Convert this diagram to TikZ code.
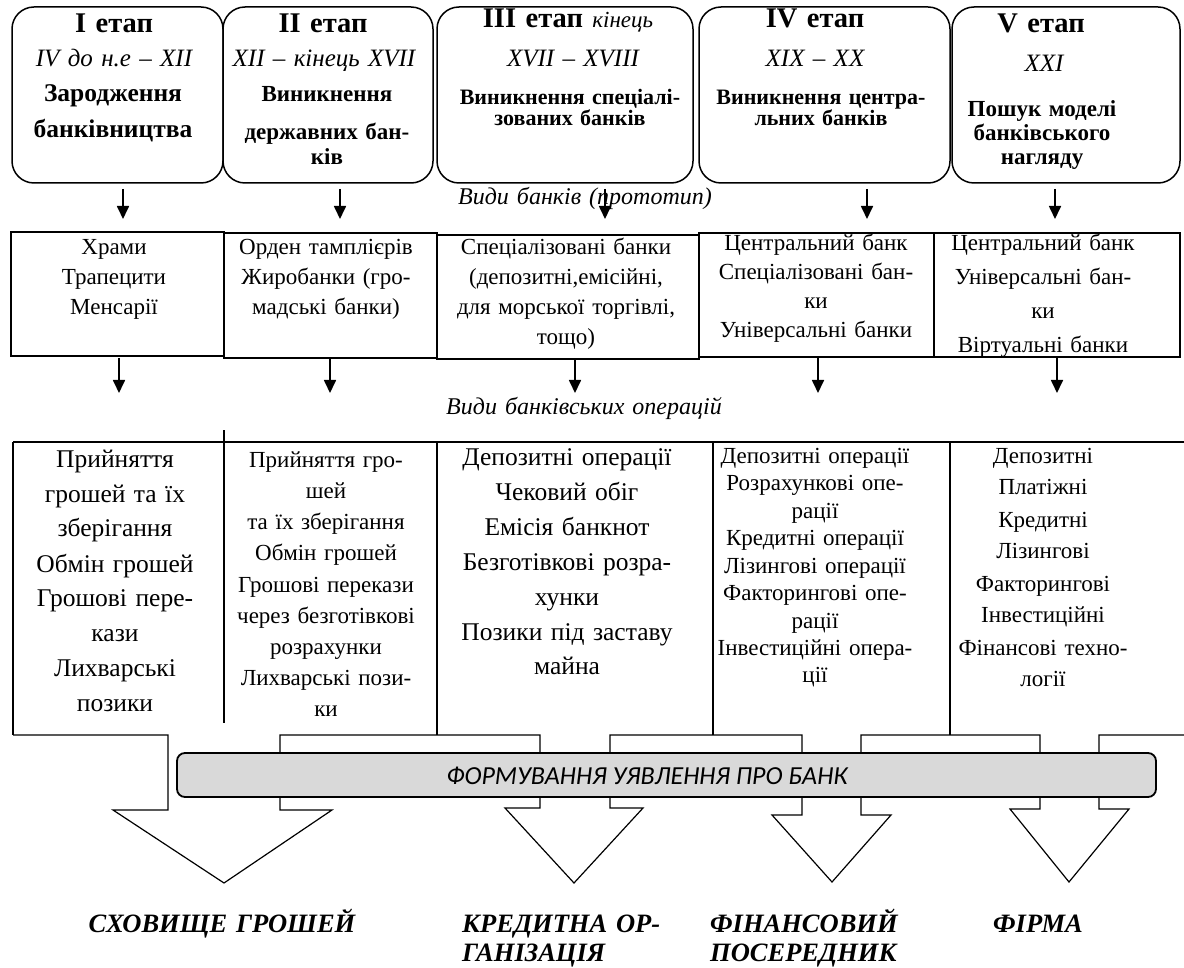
\documentclass[tikz,border=0pt]{standalone}
\usepackage{fontspec}
\setmainfont{Liberation Serif}
\newfontfamily\barfont{Carlito}
\usetikzlibrary{arrows.meta}
\definecolor{barfill}{HTML}{D9D9D9}

\begin{document}
\begin{tikzpicture}[x=1pt,y=-1pt,
  stage/.style={draw, line width=1.5pt, rounded corners=22pt, inner sep=0pt},
  kind/.style={draw, line width=1.8pt, inner sep=0pt},
  rule/.style={line width=1.8pt},
  block/.style={line width=1.2pt, line join=miter},
  txt/.style={anchor=base, inner sep=0pt, align=center, text width=#1},
  txt/.default=240,
  down/.style={-{Triangle[length=13pt,width=12pt]}, line width=1.7pt}]
\useasboundingbox (0,0) rectangle (1184,968);

\node[stage, minimum width=211pt, minimum height=176pt] (s1) at (117.5,95) {};
\node[stage, minimum width=210pt, minimum height=176pt] (s2) at (328,95) {};
\node[stage, minimum width=256pt, minimum height=176pt] (s3) at (565,95) {};
\node[stage, minimum width=251pt, minimum height=176pt] (s4) at (824.5,95) {};
\node[stage, minimum width=228pt, minimum height=176pt] (s5) at (1066,95) {};

\node[txt=200, font=\bfseries\fontsize{28.5}{30}\selectfont] (s1a) at (114,33) {I етап};
\node[txt=206, font=\itshape\fontsize{25}{30}\selectfont] (s1b) at (114,67) {IV до н.е – XII};
\node[txt=206, font=\bfseries\fontsize{25.5}{36}\selectfont] (s1c) at (113,102) {Зародження\\банківництва};
\node[txt=200, font=\bfseries\fontsize{28.5}{30}\selectfont] (s2a) at (323,33) {II етап};
\node[txt=206, font=\itshape\fontsize{25}{30}\selectfont] (s2b) at (324,67) {XII – кінець XVII};
\node[txt=206, font=\bfseries\fontsize{23}{25}\selectfont] (s2c) at (327,102) {Виникнення\\[13pt]державних бан-\\ків};
\node[txt=250, font=\bfseries\fontsize{28.5}{30}\selectfont] (s3a) at (568,28) {III етап {\mdseries\itshape\fontsize{23}{24}\selectfont кінець}};
\node[txt=250, font=\itshape\fontsize{25}{30}\selectfont] (s3b) at (573,67) {XVII – XVIII};
\node[txt=250, font=\bfseries\fontsize{22}{21}\selectfont] (s3c) at (570,105) {Виникнення спеціалі-\\зованих банків};
\node[txt=245, font=\bfseries\fontsize{28.5}{30}\selectfont] (s4a) at (815,28) {IV етап};
\node[txt=245, font=\itshape\fontsize{25}{30}\selectfont] (s4b) at (815,67) {XIX – XX};
\node[txt=245, font=\bfseries\fontsize{22}{21}\selectfont] (s4c) at (821,105) {Виникнення центра-\\льних банків};
\node[txt=220, font=\bfseries\fontsize{28.5}{30}\selectfont] (s5a) at (1041,33) {V етап};
\node[txt=220, font=\itshape\fontsize{25}{30}\selectfont] (s5b) at (1044,72) {XXI};
\node[txt=220, font=\bfseries\fontsize{23}{24}\selectfont] (s5c) at (1042,117) {Пошук моделі\\банківського\\нагляду};

\node[txt=300, font=\itshape\fontsize{24}{26}\selectfont] (lbanks) at (585,205) {Види банків (прототип)};

\coordinate (p1) at (123,189); \coordinate (q1) at (123,219);
\coordinate (p2) at (340,189); \coordinate (q2) at (340,219);
\coordinate (p3) at (605,189); \coordinate (q3) at (605,219);
\coordinate (p4) at (867,189); \coordinate (q4) at (867,219);
\coordinate (p5) at (1055,189); \coordinate (q5) at (1055,219);
\draw[down] (p1) -- (q1);
\draw[down] (p2) -- (q2);
\draw[down] (p3) -- (q3);
\draw[down] (p4) -- (q4);
\draw[down] (p5) -- (q5);

\node[kind, minimum width=213pt, minimum height=124pt] (r1) at (117.5,294) {};
\node[kind, minimum width=213pt, minimum height=125pt] (r2) at (330.5,295.5) {};
\node[kind, minimum width=262pt, minimum height=124pt] (r3) at (568,297) {};
\node[kind, minimum width=235pt, minimum height=124pt] (r4) at (816.5,295) {};
\node[kind, minimum width=246pt, minimum height=124pt] (r5) at (1057,295) {};

\node[txt=206, font=\fontsize{23}{30}\selectfont] (r1t) at (114,255) {Храми\\Трапецити\\Менсарії};
\node[txt=206, font=\fontsize{23}{30}\selectfont] (r2t) at (326,255) {Орден тамплієрів\\Жиробанки (гро-\\мадські банки)};
\node[txt=256, font=\fontsize{23}{30}\selectfont] (r3t) at (566,255) {Спеціалізовані банки\\(депозитні,емісійні,\\для морської торгівлі,\\тощо)};
\node[txt=230, font=\fontsize{23}{29}\selectfont] (r4t) at (816,251) {Центральний банк\\Спеціалізовані бан-\\ки\\Універсальні банки};
\node[txt=230, font=\fontsize{23}{33.7}\selectfont] (r5t) at (1043,251) {Центральний банк\\Універсальні бан-\\ки\\Віртуальні банки};

\coordinate (u1) at (119,358); \coordinate (v1) at (119,393);
\coordinate (u2) at (330,359); \coordinate (v2) at (330,393);
\coordinate (u3) at (575,360); \coordinate (v3) at (575,393);
\coordinate (u4) at (818,358); \coordinate (v4) at (818,393);
\coordinate (u5) at (1057,358); \coordinate (v5) at (1057,393);
\draw[down] (u1) -- (v1);
\draw[down] (u2) -- (v2);
\draw[down] (u3) -- (v3);
\draw[down] (u4) -- (v4);
\draw[down] (u5) -- (v5);

\node[txt=320, font=\itshape\fontsize{24}{26}\selectfont] (lops) at (584,414) {Види банківських операцій};

\draw[rule] (13,442) -- (1184,442);
\draw[rule] (13,442) -- (13,735);
\draw[rule] (224,430) -- (224,723);
\draw[rule] (437,442) -- (437,735);
\draw[rule] (713,442) -- (713,735);
\draw[rule] (950,442) -- (950,735);

\node[txt=206, font=\fontsize{25.5}{35}\selectfont] (o1) at (115,467) {Прийняття\\грошей та їх\\зберігання\\Обмін грошей\\Грошові пере-\\кази\\Лихварські\\позики};
\node[txt=206, font=\fontsize{23}{31.25}\selectfont] (o2) at (326,467) {Прийняття гро-\\шей\\та їх зберігання\\Обмін грошей\\Грошові перекази\\через безготівкові\\розрахунки\\Лихварські пози-\\ки};
\node[txt=270, font=\fontsize{25.5}{35}\selectfont] (o3) at (567,465) {Депозитні операції\\Чековий обіг\\Емісія банкнот\\Безготівкові розра-\\хунки\\Позики під заставу\\майна};
\node[txt=232, font=\fontsize{23}{27.5}\selectfont] (o4) at (815,463) {Депозитні операції\\Розрахункові опе-\\рації\\Кредитні операції\\Лізингові операції\\Факторингові опе-\\рації\\Інвестиційні опера-\\ції};
\node[txt=220, font=\fontsize{23}{32}\selectfont] (o5) at (1043,463) {Депозитні\\Платіжні\\Кредитні\\Лізингові\\Факторингові\\Інвестиційні\\Фінансові техно-\\логії};

\draw[block] (13,735) -- (168,735) -- (168,810) -- (113,810) -- (224,883) -- (332,810) -- (280,810) -- (280,735)
  -- (540,735) -- (540,808) -- (505,808) -- (574,883) -- (643,808) -- (610,808) -- (610,735)
  -- (802,735) -- (802,815) -- (772,815) -- (832,882) -- (891,815) -- (861,815) -- (861,735)
  -- (1040,735) -- (1040,809) -- (1010,809) -- (1069,882) -- (1129,809) -- (1099,809) -- (1099,735)
  -- (1184,735);

\node[draw, line width=1.8pt, fill=barfill, rounded corners=8pt, minimum width=979pt, minimum height=44pt] (idea) at (666.5,775) {};
\node[anchor=base, inner sep=0pt, font=\barfont\itshape\fontsize{26}{30}\selectfont] (ideat) at (647,784) {ФОРМУВАННЯ УЯВЛЕННЯ ПРО БАНК};

\node[txt=300, font=\bfseries\itshape\fontsize{26.5}{29}\selectfont] (g1) at (222,932) {СХОВИЩЕ ГРОШЕЙ};
\node[txt=230, align=left, anchor=base west, font=\bfseries\itshape\fontsize{26.5}{29}\selectfont] (g2) at (462,932) {КРЕДИТНА ОР-\\ГАНІЗАЦІЯ};
\node[txt=230, align=left, anchor=base west, font=\bfseries\itshape\fontsize{26.5}{29}\selectfont] (g3) at (710,932) {ФІНАНСОВИЙ\\ПОСЕРЕДНИК};
\node[txt=200, font=\bfseries\itshape\fontsize{26.5}{29}\selectfont] (g4) at (1038,932) {ФІРМА};
\end{tikzpicture}
\end{document}
